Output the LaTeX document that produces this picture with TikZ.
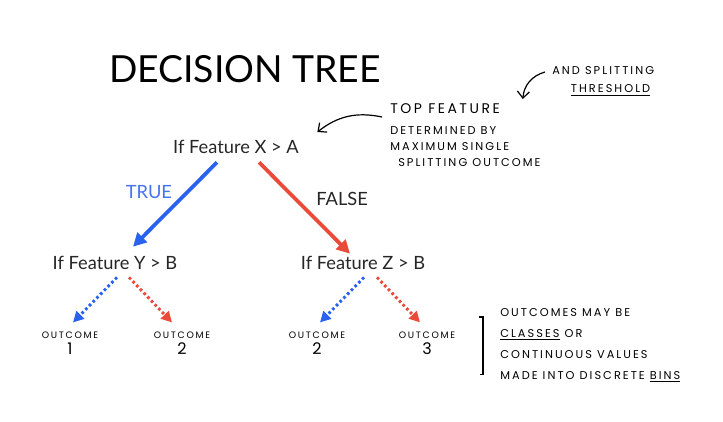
\documentclass[tikz,border=0pt]{standalone}
\usepackage{fontspec}
\setmainfont{Lato}
\newfontfamily\handfont[LetterSpace=18]{Poppins}
\usetikzlibrary{arrows.meta,positioning,calc}
\definecolor{tblue}{RGB}{40,98,238}
\definecolor{tred}{RGB}{234,74,58}
\definecolor{tlight}{RGB}{70,115,240}

\begin{document}
\begin{tikzpicture}[x=0.75pt,y=-0.75pt,
      feat/.style={font=\fontsize{13.7}{16}\selectfont,text=black!85,inner sep=1pt},
      hand/.style={font=\handfont\fontsize{8.5}{12}\selectfont,align=left,inner sep=0pt},
      outc/.style={font=\handfont,align=center,inner sep=0pt},
      yes/.style={-{Triangle[length=10pt,width=10pt]},line width=2.8pt,tblue},
      no/.style={-{Triangle[length=10pt,width=10pt]},line width=2.8pt,tred},
      yesdot/.style={-{Triangle[length=8pt,width=8pt]},line width=2.2pt,
                     dash pattern=on 2pt off 2pt,tblue},
      nodot/.style={-{Triangle[length=8pt,width=8pt]},line width=2.2pt,
                    dash pattern=on 2pt off 2pt,tred},
      note/.style={-{Straight Barb[length=5pt,width=9pt]},line width=0.9pt}]
    \useasboundingbox[fill=white] (0,0) rectangle (723,421);

    \node[font=\fontsize{28}{30}\selectfont] (title) at (245,69) {DECISION TREE};

    % the tree
    \node[feat] (root)  at (236,147) {If Feature X > A};
    \node[feat] (left)  at (115,263) {If Feature Y > B};
    \node[feat] (right) at (363,263) {If Feature Z > B};

    \node[outc] (o1) at (70,343)  {{\fontsize{7}{8}\selectfont OUTCOME}\\{\fontsize{12}{11}\selectfont 1}};
    \node[outc] (o2) at (182,343) {{\fontsize{7}{8}\selectfont OUTCOME}\\{\fontsize{12}{11}\selectfont 2}};
    \node[outc] (o3) at (317,343) {{\fontsize{7}{8}\selectfont OUTCOME}\\{\fontsize{12}{11}\selectfont 2}};
    \node[outc] (o4) at (427,343) {{\fontsize{7}{8}\selectfont OUTCOME}\\{\fontsize{12}{11}\selectfont 3}};

    \draw[yes] ($(root.south)+(-19,7)$) --
      node[pos=0.35,left=7pt,font=\fontsize{13.7}{16}\selectfont,text=tlight]{TRUE}
      ($(left.north)+(18,-8)$);
    \draw[no] ($(root.south)+(23,7)$) --
      node[pos=0.4,right=11pt,font=\fontsize{13.7}{16}\selectfont,text=black!85]{FALSE}
      ($(right.north)+(-13,-1)$);

    \draw[yesdot] ($(left.south)+(2,6)$)   -- ($(o1.north)+(3,-9)$);
    \draw[nodot]  ($(left.south)+(14,6)$)  -- ($(o2.north)+(-10,-9)$);
    \draw[yesdot] ($(right.south)+(1,6)$)  -- ($(o3.north)+(3,-9)$);
    \draw[nodot]  ($(right.south)+(14,6)$) -- ($(o4.north)+(-7,-9)$);

    % hand notes
    \node[hand,anchor=north west] (top) at (390,103)
      {{\fontsize{10.5}{12}\selectfont TOP FEATURE}\\[4pt]
       DETERMINED BY\\
       MAXIMUM SINGLE\\
       \hspace*{6pt}SPLITTING OUTCOME};
    \node[hand,anchor=north west] (thr) at (552,66)
      {AND SPLITTING\\[2pt] \hspace*{14pt}\underline{THRESHOLD}};
    \node[hand,anchor=north west,font=\handfont\fontsize{8.5}{15.75}\selectfont] (outnote) at (500,308)
      {OUTCOMES MAY BE\\
       \underline{CLASSES} OR\\
       CONTINUOUS VALUES\\
       MADE INTO DISCRETE \underline{BINS}};

    \draw[note] ($(top.north west)+(-8,14)$) to[bend right=25] ($(root.east)+(17,-15)$);
    \draw[note] ($(thr.north west)+(-7,6)$) to[bend right=35] ($(top.north east)+(-18,-4)$);

    % bracket
    \draw[line width=1.1pt] ($(outnote.north west)+(-21,9)$) -- ++(4,0)
      -- ($(outnote.south west)+(-17,-8)$) -- ++(-3,0);
  \end{tikzpicture}
\end{document}
